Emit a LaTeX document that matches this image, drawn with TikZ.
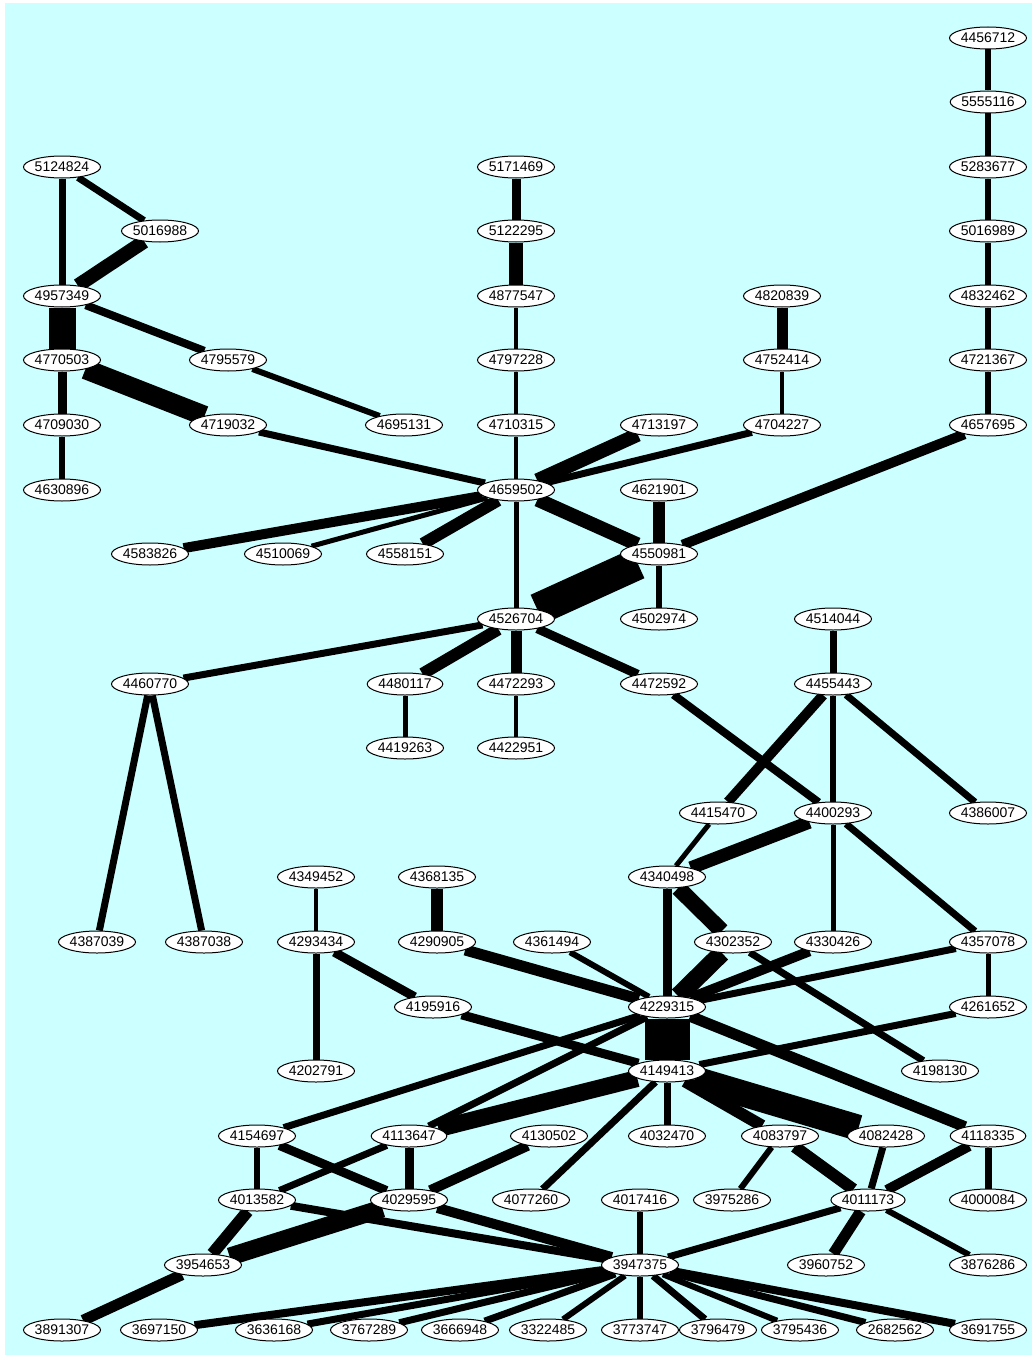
\documentclass[tikz,border=0pt]{standalone}
\usepackage{fontspec}
\setmainfont{Liberation Sans}
\usepackage{xcolor}
\usepackage{tikz}
\usetikzlibrary{shapes.geometric, positioning}
\definecolor{bgcyan}{RGB}{204,255,255}
\pgfdeclarelayer{back}
\pgfsetlayers{back,main}

\begin{document}
\begin{tikzpicture}[
    x=0.5pt, y=-0.5pt,
    mol/.style={ellipse, draw, line width=0.5pt, fill=white, minimum width=35pt, minimum height=11pt, inner sep=0pt, font=\fontsize{7pt}{8pt}\selectfont},
    link/.style={line width=#1}
]
    \useasboundingbox (0,0) rectangle (1032,1359);
    \begin{pgfonlayer}{back}
        \fill[white] (0,0) rectangle (1032,1359);
        \fill[bgcyan] (5,3) rectangle (1032,1355);
    \end{pgfonlayer}

    % rows 1-7
    \node[mol] (n4456712) at (988,38) {4456712};
    \node[mol] (n5555116) at (988,102) {5555116};
    \node[mol] (n5124824) at (62,167) {5124824};
    \node[mol] (n5171469) at (516,167) {5171469};
    \node[mol] (n5283677) at (988,167) {5283677};
    \node[mol] (n5016988) at (160,231) {5016988};
    \node[mol] (n5122295) at (516,231) {5122295};
    \node[mol] (n5016989) at (988,231) {5016989};
    \node[mol] (n4957349) at (62,296) {4957349};
    \node[mol] (n4877547) at (516,296) {4877547};
    \node[mol] (n4820839) at (782,296) {4820839};
    \node[mol] (n4832462) at (988,296) {4832462};
    \node[mol] (n4770503) at (62,360) {4770503};
    \node[mol] (n4795579) at (228,360) {4795579};
    \node[mol] (n4797228) at (516,360) {4797228};
    \node[mol] (n4752414) at (782,360) {4752414};
    \node[mol] (n4721367) at (988,360) {4721367};
    \node[mol] (n4709030) at (62,425) {4709030};
    \node[mol] (n4719032) at (228,425) {4719032};
    \node[mol] (n4695131) at (404,425) {4695131};
    \node[mol] (n4710315) at (516,425) {4710315};
    \node[mol] (n4713197) at (659,425) {4713197};
    \node[mol] (n4704227) at (782,425) {4704227};
    \node[mol] (n4657695) at (988,425) {4657695};

    % rows 8-14
    \node[mol] (n4630896) at (62,490) {4630896};
    \node[mol] (n4659502) at (516,490) {4659502};
    \node[mol] (n4621901) at (659,490) {4621901};
    \node[mol] (n4583826) at (150,554) {4583826};
    \node[mol] (n4510069) at (283,554) {4510069};
    \node[mol] (n4558151) at (405,554) {4558151};
    \node[mol] (n4550981) at (659,554) {4550981};
    \node[mol] (n4526704) at (516,619) {4526704};
    \node[mol] (n4502974) at (659,619) {4502974};
    \node[mol] (n4514044) at (833,619) {4514044};
    \node[mol] (n4460770) at (150,684) {4460770};
    \node[mol] (n4480117) at (405,684) {4480117};
    \node[mol] (n4472293) at (516,684) {4472293};
    \node[mol] (n4472592) at (659,684) {4472592};
    \node[mol] (n4455443) at (833,684) {4455443};
    \node[mol] (n4419263) at (405,748) {4419263};
    \node[mol] (n4422951) at (516,748) {4422951};
    \node[mol] (n4415470) at (718,813) {4415470};
    \node[mol] (n4400293) at (833,813) {4400293};
    \node[mol] (n4386007) at (988,813) {4386007};
    \node[mol] (n4349452) at (316,877) {4349452};
    \node[mol] (n4368135) at (437,877) {4368135};
    \node[mol] (n4340498) at (667,877) {4340498};

    % rows 15-21
    \node[mol] (n4387039) at (97,942) {4387039};
    \node[mol] (n4387038) at (204,942) {4387038};
    \node[mol] (n4293434) at (316,942) {4293434};
    \node[mol] (n4290905) at (437,942) {4290905};
    \node[mol] (n4361494) at (552,942) {4361494};
    \node[mol] (n4302352) at (733,942) {4302352};
    \node[mol] (n4330426) at (833,942) {4330426};
    \node[mol] (n4357078) at (988,942) {4357078};
    \node[mol] (n4195916) at (433,1007) {4195916};
    \node[mol] (n4229315) at (667,1007) {4229315};
    \node[mol] (n4261652) at (988,1007) {4261652};
    \node[mol] (n4202791) at (316,1071) {4202791};
    \node[mol] (n4149413) at (667,1071) {4149413};
    \node[mol] (n4198130) at (940,1071) {4198130};
    \node[mol] (n4154697) at (257,1136) {4154697};
    \node[mol] (n4113647) at (409,1136) {4113647};
    \node[mol] (n4130502) at (549,1136) {4130502};
    \node[mol] (n4032470) at (667,1136) {4032470};
    \node[mol] (n4083797) at (780,1136) {4083797};
    \node[mol] (n4082428) at (886,1136) {4082428};
    \node[mol] (n4118335) at (988,1136) {4118335};
    \node[mol] (n4013582) at (257,1200) {4013582};
    \node[mol] (n4029595) at (409,1200) {4029595};
    \node[mol] (n4077260) at (531,1200) {4077260};
    \node[mol] (n4017416) at (640,1200) {4017416};
    \node[mol] (n3975286) at (732,1200) {3975286};
    \node[mol] (n4011173) at (868,1200) {4011173};
    \node[mol] (n4000084) at (988,1200) {4000084};
    \node[mol] (n3954653) at (203,1265) {3954653};
    \node[mol] (n3947375) at (640,1265) {3947375};
    \node[mol] (n3960752) at (826,1265) {3960752};
    \node[mol] (n3876286) at (988,1265) {3876286};
    \node[mol] (n3891307) at (62,1330) {3891307};
    \node[mol] (n3697150) at (159,1330) {3697150};
    \node[mol] (n3636168) at (274,1330) {3636168};
    \node[mol] (n3767289) at (369,1330) {3767289};
    \node[mol] (n3666948) at (460,1330) {3666948};
    \node[mol] (n3322485) at (548,1330) {3322485};
    \node[mol] (n3773747) at (640,1330) {3773747};
    \node[mol] (n3796479) at (718,1330) {3796479};
    \node[mol] (n3795436) at (800,1330) {3795436};
    \node[mol] (n2682562) at (895,1330) {2682562};
    \node[mol] (n3691755) at (988,1330) {3691755};

    \begin{pgfonlayer}{back}
    % upper part
    \draw[link=3pt] (n4456712) -- (n5555116);
    \draw[link=3pt] (n5555116) -- (n5283677);
    \draw[link=3pt] (n5283677) -- (n5016989);
    \draw[link=3pt] (n5016989) -- (n4832462);
    \draw[link=3pt] (n4832462) -- (n4721367);
    \draw[link=3pt] (n4721367) -- (n4657695);
    \draw[link=5pt] (n4657695) -- (n4550981);
    \draw[link=4.5pt] (n5171469) -- (n5122295);
    \draw[link=7pt] (n5122295) -- (n4877547);
    \draw[link=2pt] (n4877547) -- (n4797228);
    \draw[link=2pt] (n4797228) -- (n4710315);
    \draw[link=2pt] (n4710315) -- (n4659502);
    \draw[link=5.5pt] (n4820839) -- (n4752414);
    \draw[link=2pt] (n4752414) -- (n4704227);
    \draw[link=7pt] (n4713197) -- (n4659502);
    \draw[link=3.5pt] (n4704227) -- (n4659502);
    \draw[link=3.5pt] (n4719032) -- (n4659502);
    \draw[link=3.5pt] (n5124824) -- (n4957349);
    \draw[link=3.5pt] (n5124824) -- (n5016988);
    \draw[link=7pt] (n5016988) -- (n4957349);
    \draw[link=13.5pt] (n4957349) -- (n4770503);
    \draw[link=4pt] (n4957349) -- (n4795579);
    \draw[link=4.5pt] (n4770503) -- (n4709030);
    \draw[link=10pt] (n4770503) -- (n4719032);
    \draw[link=3pt] (n4795579) -- (n4695131);
    \draw[link=3pt] (n4709030) -- (n4630896);

    % middle part
    \draw[link=5pt] (n4659502) -- (n4583826);
    \draw[link=2.5pt] (n4659502) -- (n4510069);
    \draw[link=6pt] (n4659502) -- (n4558151);
    \draw[link=2.5pt] (n4659502) -- (n4526704);
    \draw[link=7pt] (n4659502) -- (n4550981);
    \draw[link=6pt] (n4621901) -- (n4550981);
    \draw[link=3pt] (n4550981) -- (n4502974);
    \draw[link=16pt] (n4550981) -- (n4526704);
    \draw[link=3.5pt] (n4526704) -- (n4460770);
    \draw[link=6pt] (n4526704) -- (n4480117);
    \draw[link=5.5pt] (n4526704) -- (n4472293);
    \draw[link=4.5pt] (n4526704) -- (n4472592);
    \draw[link=2.5pt] (n4480117) -- (n4419263);
    \draw[link=2pt] (n4472293) -- (n4422951);
    \draw[link=4pt] (n4472592) -- (n4400293);
    \draw[link=3.5pt] (n4514044) -- (n4455443);
    \draw[link=5pt] (n4455443) -- (n4415470);
    \draw[link=3pt] (n4455443) -- (n4400293);
    \draw[link=3.5pt] (n4455443) -- (n4386007);
    \draw[link=3.5pt] (n4460770) -- (n4387039);
    \draw[link=3.5pt] (n4460770) -- (n4387038);
    \draw[link=2.5pt] (n4415470) -- (n4340498);
    \draw[link=6.5pt] (n4400293) -- (n4340498);
    \draw[link=2.5pt] (n4400293) -- (n4330426);
    \draw[link=3.5pt] (n4400293) -- (n4357078);
    \draw[link=4.5pt] (n4340498) -- (n4229315);
    \draw[link=8pt] (n4340498) -- (n4302352);
    \draw[link=9pt] (n4302352) -- (n4229315);
    \draw[link=3.5pt] (n4302352) -- (n4198130);
    \draw[link=5pt] (n4330426) -- (n4229315);
    \draw[link=3.5pt] (n4357078) -- (n4229315);
    \draw[link=2.5pt] (n4357078) -- (n4261652);
    \draw[link=3pt] (n4361494) -- (n4229315);
    \draw[link=5.5pt] (n4290905) -- (n4229315);
    \draw[link=2pt] (n4349452) -- (n4293434);
    \draw[link=6pt] (n4368135) -- (n4290905);
    \draw[link=4.5pt] (n4293434) -- (n4195916);
    \draw[link=3.5pt] (n4293434) -- (n4202791);
    \draw[link=4.5pt] (n4195916) -- (n4149413);

    % lower part
    \draw[link=22.5pt] (n4229315) -- (n4149413);
    \draw[link=3.5pt] (n4229315) -- (n4154697);
    \draw[link=3.5pt] (n4229315) -- (n4113647);
    \draw[link=5.5pt] (n4229315) -- (n4118335);
    \draw[link=3.5pt] (n4261652) -- (n4149413);
    \draw[link=8.5pt] (n4149413) -- (n4113647);
    \draw[link=3.5pt] (n4149413) -- (n4077260);
    \draw[link=3.5pt] (n4149413) -- (n4032470);
    \draw[link=6pt] (n4149413) -- (n4083797);
    \draw[link=13pt] (n4149413) -- (n4082428);
    \draw[link=4.5pt] (n4113647) -- (n4029595);
    \draw[link=3.5pt] (n4113647) -- (n4013582);
    \draw[link=3pt] (n4154697) -- (n4013582);
    \draw[link=4.5pt] (n4154697) -- (n4029595);
    \draw[link=5pt] (n4130502) -- (n4029595);
    \draw[link=6pt] (n4013582) -- (n3954653);
    \draw[link=9pt] (n4029595) -- (n3954653);
    \draw[link=4pt] (n4013582) -- (n3947375);
    \draw[link=5pt] (n4029595) -- (n3947375);
    \draw[link=5.5pt] (n3954653) -- (n3891307);
    \draw[link=3pt] (n4017416) -- (n3947375);
    \draw[link=3pt] (n4083797) -- (n3975286);
    \draw[link=6pt] (n4083797) -- (n4011173);
    \draw[link=3.5pt] (n4082428) -- (n4011173);
    \draw[link=5pt] (n4118335) -- (n4011173);
    \draw[link=3.5pt] (n4118335) -- (n4000084);
    \draw[link=3.5pt] (n4011173) -- (n3947375);
    \draw[link=5.5pt] (n4011173) -- (n3960752);
    \draw[link=3pt] (n4011173) -- (n3876286);
    \draw[link=4pt] (n3947375) -- (n3697150);
    \draw[link=3.5pt] (n3947375) -- (n3636168);
    \draw[link=3.5pt] (n3947375) -- (n3767289);
    \draw[link=3.5pt] (n3947375) -- (n3666948);
    \draw[link=3pt] (n3947375) -- (n3322485);
    \draw[link=3pt] (n3947375) -- (n3773747);
    \draw[link=3.5pt] (n3947375) -- (n3796479);
    \draw[link=3pt] (n3947375) -- (n3795436);
    \draw[link=3.5pt] (n3947375) -- (n2682562);
    \draw[link=4pt] (n3947375) -- (n3691755);
    \end{pgfonlayer}
\end{tikzpicture}
\end{document}
